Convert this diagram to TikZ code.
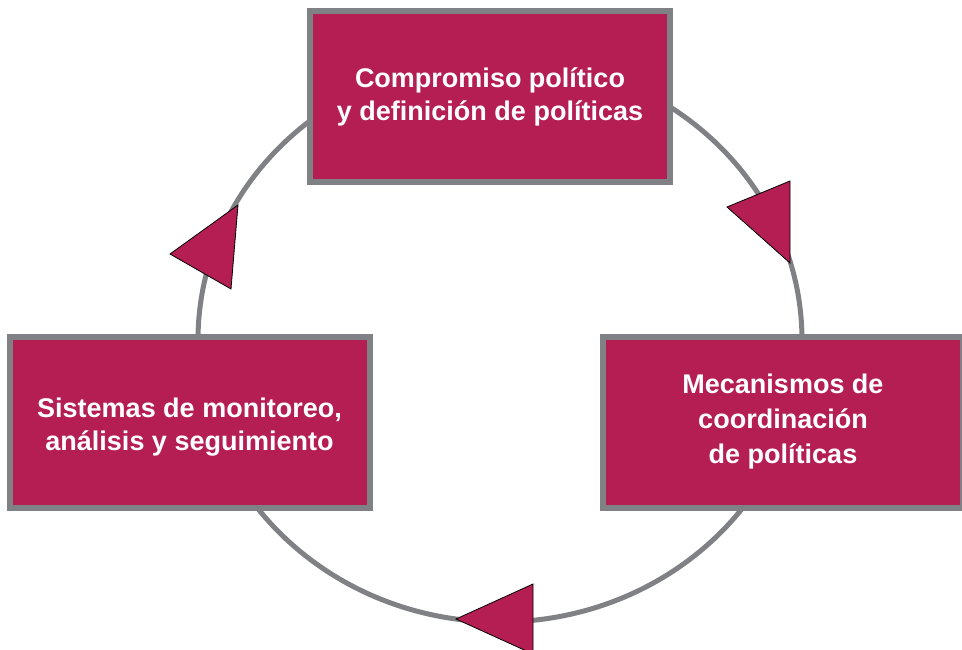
\documentclass[tikz,border=0pt]{standalone}
\usepackage{fontspec}
\setmainfont{Liberation Sans}
\usetikzlibrary{positioning}
\definecolor{policyRed}{RGB}{181,30,82}
\definecolor{frameGray}{RGB}{128,129,132}
\tikzset{
    stageBox/.style={draw=frameGray, fill=policyRed, line width=6pt, text=white,
        align=center, inner sep=0pt, minimum width=360pt, minimum height=171pt,
        font=\fontsize{27}{33}\selectfont\bfseries}
}
\tikzset{
    cycleArrow/.style={fill=policyRed, draw=black, line width=0.8pt, line join=miter}
}

\begin{document}
\begin{tikzpicture}[x=1pt,y=-1pt]
			\useasboundingbox (0,0) rectangle (962,650);
			% cycle behind the boxes
			\draw[frameGray, line width=5pt] (500,340) ellipse [x radius=302pt, y radius=282pt];
			\node[stageBox] (commitment) at (490,97) {Compromiso político\\y definición de políticas};
			\node[stageBox] (monitoring) at (189.5,422) {\\[-4pt]Sistemas de monitoreo,\\análisis y seguimiento};
			\node[stageBox] (coordination) at (783,422) {Mecanismos de\\[2pt]coordinación\\[2pt]de políticas};
			% arrow heads on the cycle
			\filldraw[cycleArrow] (727,207) -- (790,181) -- (790,263) -- cycle;
			\filldraw[cycleArrow] (456,619) -- (533,584) -- (533,654) -- cycle;
			\filldraw[cycleArrow] (170,254) -- (238,205) -- (231,289) -- cycle;
		\end{tikzpicture}
\end{document}
